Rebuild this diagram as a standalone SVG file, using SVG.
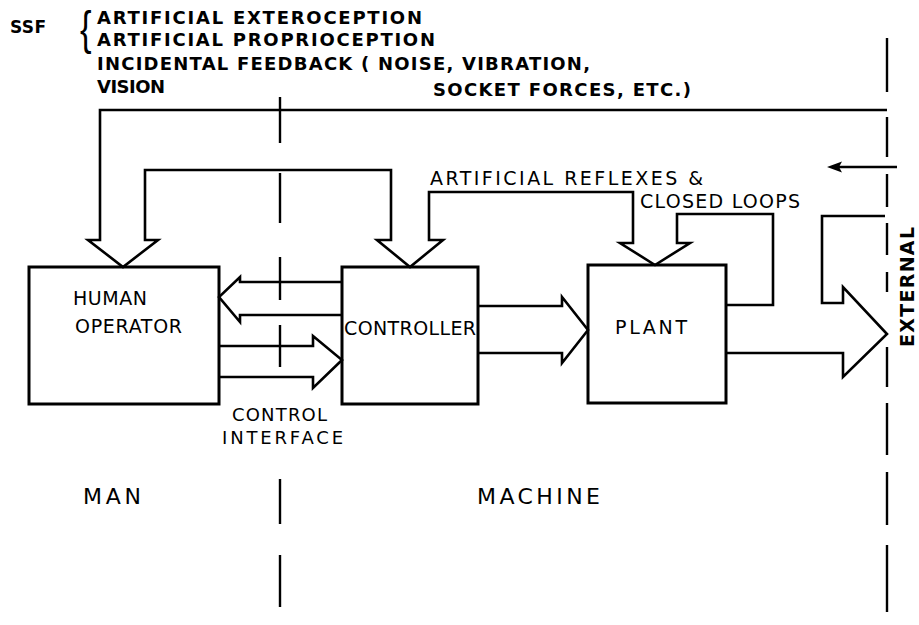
<svg xmlns="http://www.w3.org/2000/svg" width="919" height="625" viewBox="0 0 919 625">
<style>
  .ln { fill: none; stroke: #000; stroke-width: 2.6; stroke-linejoin: miter; stroke-linecap: butt; }
  .box { fill: none; stroke: #000; stroke-width: 3; }
  .dash { stroke: #000; stroke-width: 2.4; fill: none; }
  .hd { font-family: "DejaVu Sans", "Liberation Sans", sans-serif; font-size: 18px; font-weight: bold; fill: #000; }
  .lb { font-family: "DejaVu Sans", "Liberation Sans", sans-serif; font-size: 19px; fill: #000; }
  .br { font-family: "Liberation Sans", Arial, sans-serif; font-size: 46px; fill: #000; }
</style>
<rect width="919" height="625" fill="#fff"/>

<g id="labels">
  <text class="hd" x="10" y="33" textLength="36" style="font-size:17px">SSF</text>
  <text class="br" x="80" y="44" transform="translate(80 0) scale(0.75 1) translate(-80 0)">{</text>
  <text class="hd" x="97" y="24" textLength="325">ARTIFICIAL EXTEROCEPTION</text>
  <text class="hd" x="97" y="46" textLength="338">ARTIFICIAL PROPRIOCEPTION</text>
  <text class="hd" x="97" y="70" textLength="493">INCIDENTAL FEEDBACK ( NOISE, VIBRATION,</text>
  <text class="hd" x="97" y="93" textLength="68">VISION</text>
  <text class="hd" x="433" y="96" textLength="258">SOCKET FORCES, ETC.)</text>
  <text class="lb" x="430" y="185" textLength="273">ARTIFICIAL REFLEXES &amp;</text>
  <text class="lb" x="640" y="208" textLength="160">CLOSED LOOPS</text>
  <text class="lb" x="232" y="421" textLength="95" style="font-size:18px">CONTROL</text>
  <text class="lb" x="222" y="444" textLength="121" style="font-size:18px">INTERFACE</text>
  <text class="lb" x="83" y="504" textLength="58" style="font-size:22px">MAN</text>
  <text class="lb" x="477" y="504" textLength="123" style="font-size:22px">MACHINE</text>
  <text class="lb" x="914" y="347" textLength="120" transform="rotate(-90 914 347)" style="font-weight:bold">EXTERNAL</text>
</g>

<g id="dividers">
  <line class="dash" x1="280" y1="97" x2="280" y2="143"/>
  <line class="dash" x1="280" y1="173" x2="280" y2="223"/>
  <line class="dash" x1="280" y1="257" x2="280" y2="300"/>
  <line class="dash" x1="280" y1="325" x2="280" y2="367"/>
  <line class="dash" x1="280" y1="479" x2="280" y2="524"/>
  <line class="dash" x1="280" y1="555" x2="280" y2="607"/>
  <line class="dash" x1="887" y1="38" x2="887" y2="92"/>
  <line class="dash" x1="887" y1="117" x2="887" y2="157"/>
  <line class="dash" x1="887" y1="174" x2="887" y2="207"/>
  <line class="dash" x1="887" y1="223" x2="887" y2="255"/>
  <line class="dash" x1="887" y1="272" x2="887" y2="292"/>
  <line class="dash" x1="887" y1="347" x2="887" y2="387"/>
  <line class="dash" x1="887" y1="403" x2="887" y2="455"/>
  <line class="dash" x1="887" y1="472" x2="887" y2="525"/>
  <line class="dash" x1="887" y1="545" x2="887" y2="612"/>
</g>

<g id="human-operator">
  <rect class="box" x="29" y="267" width="190" height="137"/>
  <text class="lb" x="73" y="305" textLength="74">HUMAN</text>
  <text class="lb" x="75" y="333" textLength="107">OPERATOR</text>
</g>
<g id="controller">
  <rect class="box" x="342" y="267" width="136" height="137"/>
  <text class="lb" x="344" y="335" textLength="132">CONTROLLER</text>
</g>
<g id="plant">
  <rect class="box" x="588" y="265" width="138" height="138"/>
  <text class="lb" x="615" y="334" textLength="72">PLANT</text>
</g>

<g id="connectors">
  <path class="ln" d="M887,110 H100 V240 H88 L123,267 L158,240 H145 V170 H391 V240 H377 L410,267 L443,240 H429 V192 H633 V243 H620 L655,265 L690,243 H677 V214 H773 V305 H726"/>
  <path class="ln" d="M342,282 H240 V277 L219,297 L240,322 V315 H342"/>
  <path class="ln" d="M219,346 H313 V336 L342,360 L313,388 V377 H219"/>
  <path class="ln" d="M478,306 H562 V297 L588,330 L562,363 V353 H478"/>
  <path class="ln" d="M726,353 H843 V377 L887,334 L843,287 V303 H822 V216 H885"/>
  <line class="ln" x1="897" y1="167" x2="834" y2="167"/>
  <path d="M827,167 L842,161.5 L839,167 L842,172.5 Z" fill="#000"/>
</g>
</svg>
